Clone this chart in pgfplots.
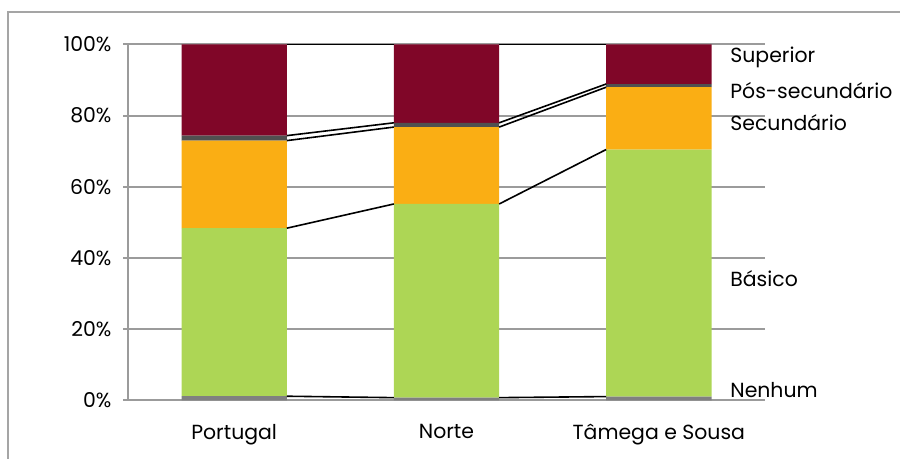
\documentclass[border=0pt]{standalone}
\usepackage{fontspec}
\setmainfont{Poppins}
\usepackage{pgfplots}
\pgfplotsset{compat=1.18}

\definecolor{cNenhum}{RGB}{128,128,128}
\definecolor{cBasico}{RGB}{173,214,85}
\definecolor{cSecund}{RGB}{250,174,20}
\definecolor{cPosSec}{RGB}{80,80,80}
\definecolor{cSuper}{RGB}{128,6,40}
\definecolor{cGrid}{RGB}{155,155,155}
\definecolor{cFrame}{RGB}{165,165,165}

\newcommand{\lblfont}{\fontsize{20.5}{24}\selectfont}

\pgfplotsset{
  common/.style={
    at={(128bp,58.5bp)}, anchor=south west,
    scale only axis, width=637bp, height=356bp,
    xmin=-0.5, xmax=2.5, ymin=0, ymax=100,
  },
  seriesline/.style={black, line width=1.6bp, no marks},
}

\begin{document}
\begin{tikzpicture}[x=1bp,y=1bp]
\useasboundingbox (0,0) rectangle (900,459);
\draw[cFrame, line width=2bp] (8,-5) -- (8,447) -- (905,447);

% stacked shares of each education level
\begin{axis}[common,
  ybar stacked, bar width=0.496, bar shift=0pt,
  axis x line*=bottom, axis y line*=left,
  x axis line style={draw=none},
  y axis line style={cGrid, line width=1.5bp},
  ymajorgrids, grid style={cGrid, line width=2bp},
  ytick={0,20,...,100},
  yticklabel={\pgfmathprintnumber{\tick}\%},
  /pgf/number format/assume math mode=true,
  tick align=outside, major tick length=5bp,
  ytick style={cGrid, line width=2bp},
  xtick={0,1,2}, xtick style={draw=none},
  xticklabels={Portugal, Norte, Tâmega e Sousa},
  ticklabel style={font=\lblfont},
  yticklabel style={xshift=-8bp},
  xticklabel style={yshift=-15bp},
]
\addplot[fill=cNenhum, draw=none] coordinates {(0,1.2) (1,0.8) (2,1.1)};
\addplot[fill=cBasico, draw=none] coordinates {(0,47.2) (1,54.4) (2,69.4)};
\addplot[fill=cSecund, draw=none] coordinates {(0,24.6) (1,21.6) (2,17.5)};
\addplot[fill=cPosSec, draw=none] coordinates {(0,1.4) (1,1.2) (2,0.9)};
\addplot[fill=cSuper, draw=none] coordinates {(0,25.6) (1,22.0) (2,11.1)};
\end{axis}

% series lines joining the cumulative boundaries of neighbouring bars
\begin{axis}[common, hide axis, unbounded coords=jump, clip=false]
\addplot[seriesline] coordinates {(0.248,1.2) (0.752,0.8) (1,nan) (1.248,0.8) (1.752,1.1)};
\addplot[seriesline] coordinates {(0.248,48.4) (0.752,55.2) (1,nan) (1.248,55.2) (1.752,70.5)};
\addplot[seriesline] coordinates {(0.248,73.0) (0.752,76.8) (1,nan) (1.248,76.8) (1.752,88.0)};
\addplot[seriesline] coordinates {(0.248,74.4) (0.752,78.0) (1,nan) (1.248,78.0) (1.752,88.9)};
\addplot[seriesline] coordinates {(0.248,100) (0.752,100) (1,nan) (1.248,100) (1.752,100)};
\begin{scope}[every node/.style={anchor=west, inner sep=0pt, font=\lblfont}]
\node at (axis cs:2.336,96.4) {Superior};
\node at (axis cs:2.336,87.1) {Pós-secundário};
\node at (axis cs:2.336,78.1) {Secundário};
\node at (axis cs:2.336,34.1) {Básico};
\node at (axis cs:2.336,2.9) {Nenhum};
\end{scope}
\end{axis}
\end{tikzpicture}
\end{document}
